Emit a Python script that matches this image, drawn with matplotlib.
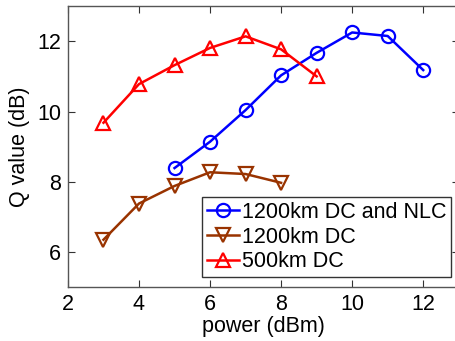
import matplotlib
matplotlib.use("Agg")
import matplotlib.pyplot as plt

plt.rcParams['font.family'] = ['Liberation Sans', 'DejaVu Sans']

x_nlc = [5, 6, 7, 8, 9, 10, 11, 12]
q_nlc = [8.39, 9.14, 10.04, 11.03, 11.67, 12.25, 12.15, 11.18]
x_dc1200 = [3, 4, 5, 6, 7, 8]
q_dc1200 = [6.35, 7.38, 7.88, 8.27, 8.22, 7.97]
x_dc500 = [3, 4, 5, 6, 7, 8, 9]
q_dc500 = [9.68, 10.78, 11.32, 11.81, 12.14, 11.77, 11.0]

labels = ['1200km DC and NLC', '1200km DC', '500km DC']

fig = plt.figure(figsize=(4.56, 3.41), dpi=100)
ax = fig.add_axes([0.149, 0.158, 0.857, 0.824])

ms = 9.5
mew = 1.6
lw = 1.8
ax.plot(x_nlc, q_nlc, '-o', color='#0000FF', lw=lw, ms=ms, mew=mew, mfc='none', label=labels[0])
ax.plot(x_dc1200, q_dc1200, '-v', color='#993300', lw=lw, ms=ms + 1, mew=mew, mfc='none', label=labels[1])
ax.plot(x_dc500, q_dc500, '-^', color='#FF0000', lw=lw, ms=ms + 1, mew=mew, mfc='none', label=labels[2])

ax.set_xlim(2, 13)
ax.set_ylim(5, 13)
ax.set_xticks([2, 4, 6, 8, 10, 12])
ax.set_yticks([6, 8, 10, 12])
ax.tick_params(direction='in', top=True, right=True, labelsize=15.5, length=5, width=0.8, color='#333333', pad=5)
for s in ax.spines.values():
    s.set_color('#555555')
    s.set_linewidth(1.0)

ax.set_xlabel('power (dBm)', fontsize=15.5, labelpad=1)
ax.set_ylabel('Q value (dB)', fontsize=15.5, labelpad=5)

leg = ax.legend(loc='upper left', bbox_to_anchor=(202 / 456, 1 - 197 / 341), bbox_transform=fig.transFigure,
                fontsize=15.5, frameon=True, fancybox=False, framealpha=1, edgecolor='#333333',
                handlelength=1.5, handletextpad=0.15, labelspacing=0.18, borderpad=0.22, borderaxespad=0)
leg.get_frame().set_linewidth(1.0)

fig.savefig('out.png', dpi=100)
